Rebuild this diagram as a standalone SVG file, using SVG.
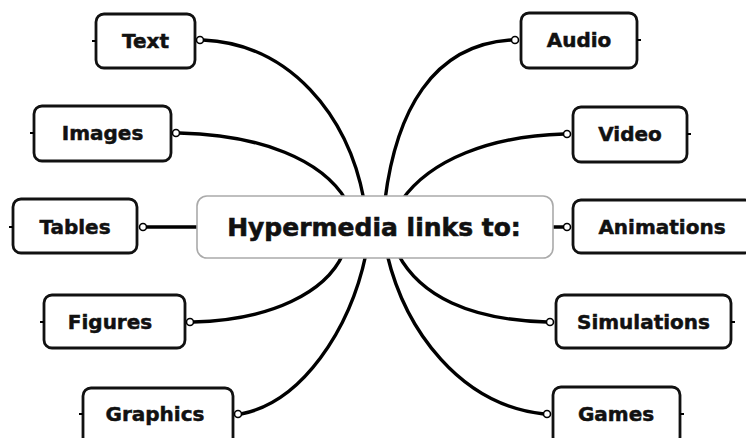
<svg xmlns="http://www.w3.org/2000/svg" width="746" height="438" viewBox="0 0 746 438">
<style>
.box{fill:#fff;stroke:#111;stroke-width:2.8}
.hub{fill:#fff;stroke:#aaa;stroke-width:1.6}
.lbl{font-family:"DejaVu Sans",Verdana,sans-serif;font-weight:bold;font-size:20px;fill:#111;stroke:#111;stroke-width:0.5;text-anchor:middle}
.hubt{font-family:"DejaVu Sans",Verdana,sans-serif;font-weight:bold;font-size:25px;fill:#111;stroke:#111;stroke-width:0.6;text-anchor:middle}
.con{fill:none;stroke:#000;stroke-width:3.4;stroke-linecap:round}
.dot{fill:#fff;stroke:#000;stroke-width:1.6}
.tick{stroke:#000;stroke-width:2}
</style>
<rect width="746" height="438" fill="#fff"/>
<g id="connectors">
<path class="con" d="M203,40 C290,44 348,115 364,200"/>
<path class="con" d="M179,133 C262,135 322,160 346,200"/>
<path class="con" d="M146,227 L200,227"/>
<path class="con" d="M193,322 C272,320 326,292 343,254"/>
<path class="con" d="M241,414 C302,402 350,330 366,254"/>
<path class="con" d="M511,40 C432,45 396,112 385,200"/>
<path class="con" d="M564,134 C490,136 430,160 402,200"/>
<path class="con" d="M550,227 L564,227"/>
<path class="con" d="M547,322 C470,320 420,296 398,254"/>
<path class="con" d="M544,414 C460,405 405,330 387,254"/>
</g>
<g id="hub">
<rect class="hub" x="197" y="196" width="356" height="62" rx="10"/>
<text class="hubt" x="374" y="236">Hypermedia links to:</text>
</g>
<g id="n-text">
<rect class="box" x="96" y="14" width="99" height="54" rx="8"/>
<line class="tick" x1="92" y1="41" x2="96" y2="41"/>
<circle class="dot" cx="200" cy="40" r="3.5"/>
<text class="lbl" x="145.5" y="48">Text</text>
</g>
<g id="n-images">
<rect class="box" x="34" y="106" width="137" height="55" rx="8"/>
<line class="tick" x1="30" y1="133" x2="34" y2="133"/>
<circle class="dot" cx="176" cy="133" r="3.5"/>
<text class="lbl" x="102.5" y="140">Images</text>
</g>
<g id="n-tables">
<rect class="box" x="13" y="199" width="124" height="54" rx="8"/>
<line class="tick" x1="9" y1="227" x2="13" y2="227"/>
<circle class="dot" cx="143" cy="227" r="3.5"/>
<text class="lbl" x="75" y="234">Tables</text>
</g>
<g id="n-figures">
<rect class="box" x="44" y="295" width="141" height="53" rx="8"/>
<line class="tick" x1="40" y1="322" x2="44" y2="322"/>
<circle class="dot" cx="190" cy="322" r="3.5"/>
<text class="lbl" x="110" y="329">Figures</text>
</g>
<g id="n-graphics">
<rect class="box" x="83" y="388" width="150" height="58" rx="8"/>
<line class="tick" x1="79" y1="414" x2="83" y2="414"/>
<circle class="dot" cx="238" cy="414" r="3.5"/>
<text class="lbl" x="155" y="421">Graphics</text>
</g>
<g id="n-audio">
<rect class="box" x="521" y="13" width="116" height="55" rx="8"/>
<line class="tick" x1="637" y1="40" x2="641" y2="40"/>
<circle class="dot" cx="515" cy="40" r="3.5"/>
<text class="lbl" x="579" y="47">Audio</text>
</g>
<g id="n-video">
<rect class="box" x="573" y="107" width="114" height="55" rx="8"/>
<line class="tick" x1="687" y1="134" x2="691" y2="134"/>
<circle class="dot" cx="567" cy="134" r="3.5"/>
<text class="lbl" x="630" y="141">Video</text>
</g>
<g id="n-animations">
<rect class="box" x="573" y="200" width="180" height="53" rx="8"/>
<circle class="dot" cx="567" cy="227" r="3.5"/>
<text class="lbl" x="662" y="234">Animations</text>
</g>
<g id="n-simulations">
<rect class="box" x="556" y="295" width="175" height="53" rx="8"/>
<line class="tick" x1="731" y1="322" x2="735" y2="322"/>
<circle class="dot" cx="550" cy="322" r="3.5"/>
<text class="lbl" x="643.5" y="329">Simulations</text>
</g>
<g id="n-games">
<rect class="box" x="553" y="387" width="127" height="58" rx="8"/>
<line class="tick" x1="680" y1="414" x2="684" y2="414"/>
<circle class="dot" cx="547" cy="414" r="3.5"/>
<text class="lbl" x="616" y="421">Games</text>
</g>
</svg>
